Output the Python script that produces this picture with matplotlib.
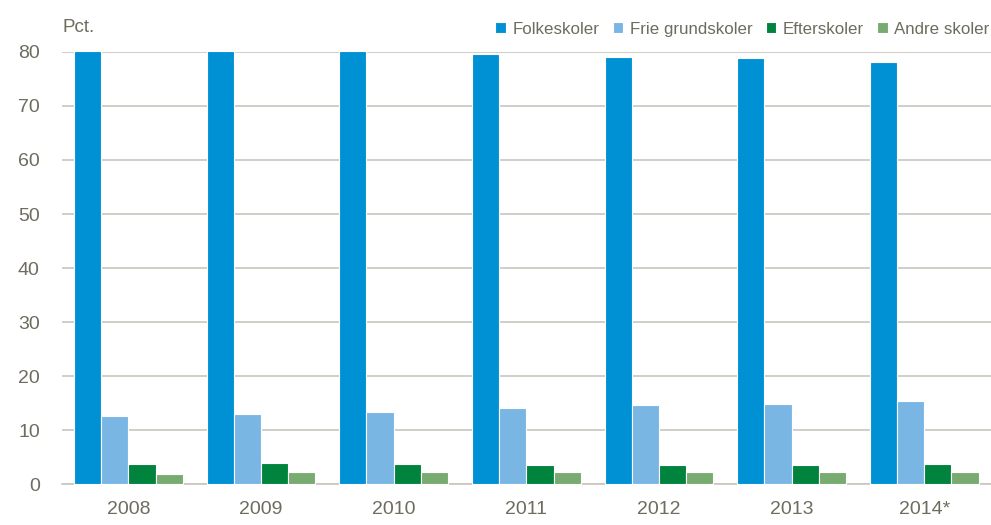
import matplotlib.pyplot as plt
import numpy as np

plt.rcParams['font.family'] = ['Liberation Sans', 'DejaVu Sans']

years = ['2008', '2009', '2010', '2011', '2012', '2013', '2014*']
folkeskoler = [80.2, 80.2, 80.2, 79.7, 79.0, 78.8, 78.2]
frie_grundskoler = [12.6, 12.9, 13.4, 14.1, 14.65, 14.9, 15.4]
efterskoler = [3.7, 3.9, 3.7, 3.6, 3.6, 3.6, 3.8]
andre_skoler = [1.8, 2.15, 2.2, 2.2, 2.3, 2.3, 2.2]

series = [
    ('Folkeskoler', folkeskoler, '#0091d5'),
    ('Frie grundskoler', frie_grundskoler, '#7ab6e3'),
    ('Efterskoler', efterskoler, '#00843d'),
    ('Andre skoler', andre_skoler, '#77ab6f'),
]

txt = '#6d6c5e'
grid = '#c8c6bc'

fig = plt.figure(figsize=(9.91, 5.25), dpi=100)
ax = fig.add_axes([0.0626, 0.078, 0.937, 0.823])

x = np.arange(len(years))
w = 0.205
for i, (name, vals, col) in enumerate(series):
    ax.bar(x + (i - 1.5) * w, vals, w, color=col, edgecolor='white',
           linewidth=0.8, label=name, zorder=3, clip_on=False)

ax.set_xlim(-0.5, len(years) - 0.5)
ax.set_ylim(0, 80)
ax.set_yticks(range(0, 81, 10))
ax.set_xticks(x)
ax.set_xticklabels(years)
ax.yaxis.grid(True, color=grid, linewidth=1.2, zorder=0)
ax.set_axisbelow(True)
for s in ['left', 'right', 'top']:
    ax.spines[s].set_visible(False)
ax.spines['bottom'].set_color(grid)
ax.spines['bottom'].set_linewidth(1.2)
ax.tick_params(axis='both', length=0, labelsize=14, colors=txt)
ax.tick_params(axis='y', pad=16)
ax.tick_params(axis='x', pad=12)

fig.text(0.0626, 0.947, 'Pct.', fontsize=13.5, color=txt, ha='left', va='center')

leg = ax.legend(loc='lower right', bbox_to_anchor=(0.999, 1.035), ncol=4, frameon=False,
                fontsize=12.2, handlelength=0.6, handleheight=0.6, handletextpad=0.4,
                columnspacing=0.8, borderaxespad=0, borderpad=0)
for t in leg.get_texts():
    t.set_color(txt)

fig.savefig('out.png', dpi=100)
